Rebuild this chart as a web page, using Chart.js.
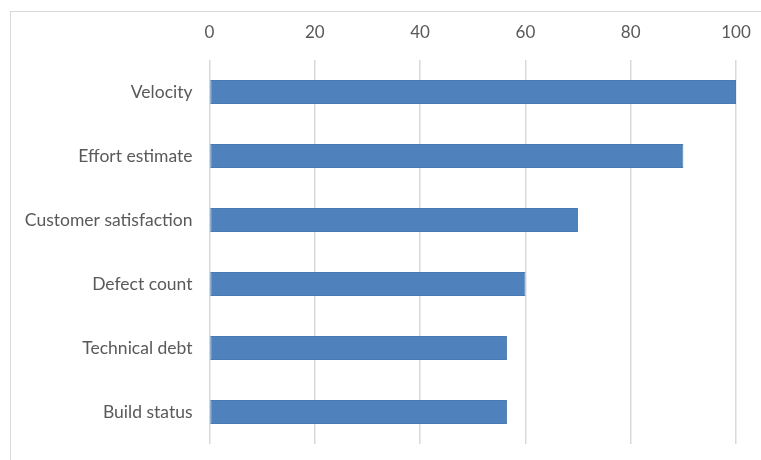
<!DOCTYPE html>
<html>
<head>
<meta charset="utf-8">
<script src="https://cdn.jsdelivr.net/npm/chart.js@4.4.0/dist/chart.umd.min.js"></script>
<style>
    html, body { margin: 0; padding: 0; background: #ffffff; }
    #wrap { position: relative; width: 761px; height: 460px; overflow: hidden; }
    #frame {
        position: absolute; left: 10px; top: 11px; width: 800px; height: 500px;
        border-left: 1px solid #d9d9d9; border-top: 1px solid #d9d9d9;
    }
    canvas { position: absolute; left: 0; top: 0; }
</style>
</head>
<body>
<div id="wrap">
    <div id="frame"></div>
    <canvas id="chart" width="761" height="460"></canvas>
</div>
<script>
const categories = ['Velocity', 'Effort estimate', 'Customer satisfaction', 'Defect count', 'Technical debt', 'Build status'];
const scores = [100, 90, 70, 60, 56.5, 56.5];
const xTicks = [0, 20, 40, 60, 80, 100];

const TEXT_COLOR = '#595959';
const GRID_COLOR = '#d9d9d9';
const BAR_COLOR = '#4f81bd';

Chart.defaults.font.family = 'Lato, "Open Sans", sans-serif';
Chart.defaults.font.size = 17;
Chart.defaults.color = TEXT_COLOR;

// keep label overhang from shrinking the plot area
function noOverhang(scale) {
    scale.paddingLeft = 0;
    scale.paddingRight = 0;
    scale.paddingTop = 0;
    scale.paddingBottom = 0;
}

const ctx = document.getElementById('chart');

new Chart(ctx, {
    type: 'bar',
    data: {
        labels: categories,
        datasets: [{
            data: scores,
            backgroundColor: BAR_COLOR,
            borderColor: '#4a7ab3',
            borderWidth: 1,
            borderSkipped: false,
            categoryPercentage: 0.75,
            barPercentage: 0.5
        }]
    },
    options: {
        indexAxis: 'y',
        responsive: false,
        animation: false,
        layout: {
            padding: { left: 0, right: 25, top: 0, bottom: 16 }
        },
        plugins: {
            legend: { display: false },
            tooltip: { enabled: false }
        },
        scales: {
            x: {
                position: 'top',
                min: 0,
                max: 100,
                afterBuildTicks: (scale) => {
                    scale.ticks = xTicks.map(v => ({ value: v }));
                },
                afterFit: (scale) => {
                    scale.height = 60;
                    noOverhang(scale);
                },
                grid: {
                    color: GRID_COLOR,
                    lineWidth: 1.5,
                    drawTicks: false
                },
                border: { display: false },
                ticks: { padding: 17, color: TEXT_COLOR }
            },
            y: {
                afterFit: (scale) => {
                    scale.width = 209.5;
                    noOverhang(scale);
                },
                grid: { display: false, drawTicks: false },
                border: { display: false },
                ticks: { padding: 17, color: TEXT_COLOR, font: { size: 17.5 } }
            }
        }
    }
});
</script>
</body>
</html>
